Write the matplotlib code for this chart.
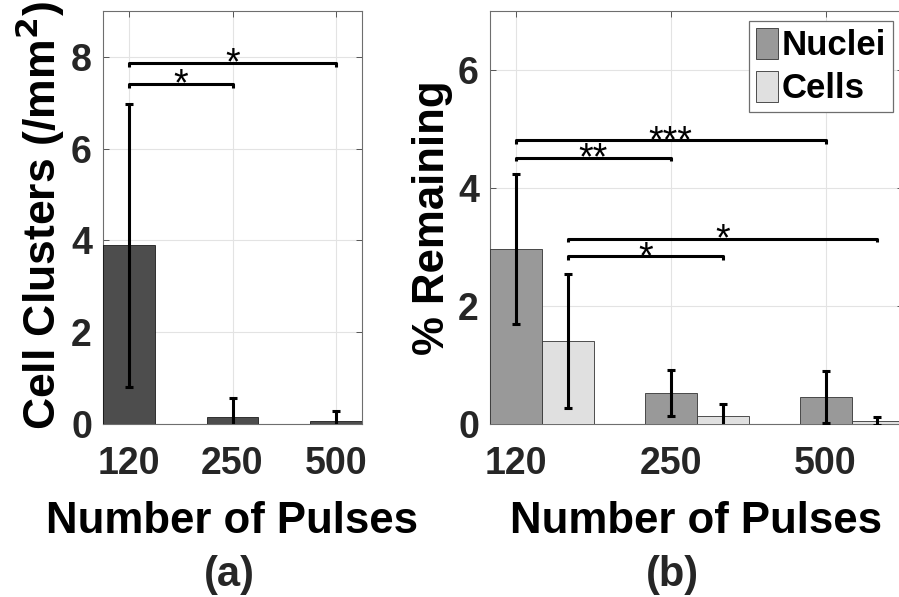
import numpy as np
import matplotlib
matplotlib.use("Agg")
import matplotlib.pyplot as plt

plt.rcParams['font.family'] = ['Liberation Sans', 'DejaVu Sans']
plt.rcParams['font.weight'] = 'bold'
plt.rcParams['text.color'] = '#262626'

# group labels and measured values
pulses = ['120', '250', '500']
clusters = [3.89, 0.16, 0.06]
clusters_err = [3.08, 0.40, 0.22]
nuclei = [2.96, 0.52, 0.45]
nuclei_err = [1.27, 0.39, 0.44]
cells = [1.41, 0.13, 0.05]
cells_err = [1.14, 0.21, 0.07]

# significance brackets: (start, end, height, label)
sig_a = [(1, 2, 7.41, '*'), (1, 3, 7.87, '*')]
sig_b = [(1, 3, 4.81, '***'), (1, 2, 4.51, '**'),
         (1.335, 3.335, 3.14, '*'), (1.335, 2.335, 2.84, '*')]

W, H = 899, 597
fig = plt.figure(figsize=(W / 100, H / 100), dpi=100)

def px_axes(x0, x1, y0, y1):
    return fig.add_axes([x0 / W, 1 - y1 / H, (x1 - x0) / W, (y1 - y0) / H])

def style(ax):
    ax.grid(True, color='#e3e3e3', linewidth=0.8)
    ax.set_axisbelow(True)
    ax.tick_params(direction='in', length=4, width=0.7, color='#555555',
                   top=True, right=True, labelsize=27, labelcolor='#262626')
    ax.tick_params(axis='x', pad=16)
    ax.tick_params(axis='y', pad=8)
    for s in ax.spines.values():
        s.set_color('#6e6e6e')
        s.set_linewidth(0.8)
    for t in ax.get_xticklabels() + ax.get_yticklabels():
        t.set_fontweight('bold')

def bracket(ax, x0, x1, y, label, tick):
    ax.plot([x0, x0, x1, x1], [y - tick, y, y, y - tick], color='black',
            linewidth=2.2, solid_capstyle='butt', zorder=5)
    ax.annotate(label, ((x0 + x1) / 2, y), xytext=(0, -8.5),
                textcoords='offset points', ha='center', va='baseline',
                fontsize=27, fontweight='medium', color='black')

x = np.arange(1, 4)
ebar = dict(fmt='none', ecolor='black', elinewidth=2.2, capsize=3,
            capthick=2.2, zorder=4)

# (a) cell clusters
ax1 = px_axes(103, 362, 11, 424)
ax1.bar(x, clusters, width=0.5, color='#4d4d4d', edgecolor='black',
        linewidth=0.5, zorder=3)
ax1.errorbar(x, clusters, yerr=clusters_err, **ebar)
for x0, x1, y, lab in sig_a:
    bracket(ax1, x0, x1, y, lab, 0.08)
ax1.set_xlim(0.75, 3.25)
ax1.set_ylim(0, 9)
ax1.set_xticks(x)
ax1.set_xticklabels(pulses)
ax1.set_yticks([0, 2, 4, 6, 8])
style(ax1)
ax1.set_xlabel('Number of Pulses', fontsize=31.5, fontweight='bold')
ax1.xaxis.set_label_coords(0.5, -0.187)
ax1.set_ylabel('Cell Clusters (/mm$^\\mathbf{2}$)', fontsize=32,
               fontweight='bold')
ax1.yaxis.set_label_coords(-0.14, 0.505)

# (b) percent remaining
ax2 = px_axes(490, 903, 11, 424)
bw = 0.335
ax2.bar(x, nuclei, width=bw, color='#999999', edgecolor='#333333',
        linewidth=0.6, zorder=3, label='Nuclei')
ax2.bar(x + bw, cells, width=bw, color='#e0e0e0', edgecolor='#333333',
        linewidth=0.6, zorder=3, label='Cells')
ax2.errorbar(x, nuclei, yerr=nuclei_err, **ebar)
ax2.errorbar(x + bw, cells, yerr=cells_err, **ebar)
for x0, x1, y, lab in sig_b:
    bracket(ax2, x0, x1, y, lab, 0.06)
ax2.set_xlim(1 - 26 / 155, 3.5)
ax2.set_ylim(0, 7)
ax2.set_xticks(x)
ax2.set_xticklabels(pulses)
ax2.set_yticks([0, 2, 4, 6])
style(ax2)
ax2.set_xlabel('Number of Pulses', fontsize=31.5, fontweight='bold')
ax2.xaxis.set_label_coords(0.5, -0.187)
ax2.set_ylabel('% Remaining', fontsize=31.5, fontweight='bold')
ax2.yaxis.set_label_coords(-0.09, 0.5)
leg = ax2.legend(loc='upper right', bbox_to_anchor=(0.976, 0.976),
                 borderaxespad=0, fontsize=25, fancybox=False,
                 handlelength=0.63, handleheight=1.0, handletextpad=0.1,
                 borderpad=0.2, labelspacing=0.25, edgecolor='#6e6e6e',
                 framealpha=1)
leg.get_frame().set_linewidth(0.9)
for t in leg.get_texts():
    t.set_fontweight('bold')
    t.set_color('black')

fig.text(229 / W, 1 - 575 / H, '(a)', fontsize=30, fontweight='bold',
         ha='center', va='center')
fig.text(672 / W, 1 - 575 / H, '(b)', fontsize=30, fontweight='bold',
         ha='center', va='center')

fig.savefig('out.png', dpi=100)
